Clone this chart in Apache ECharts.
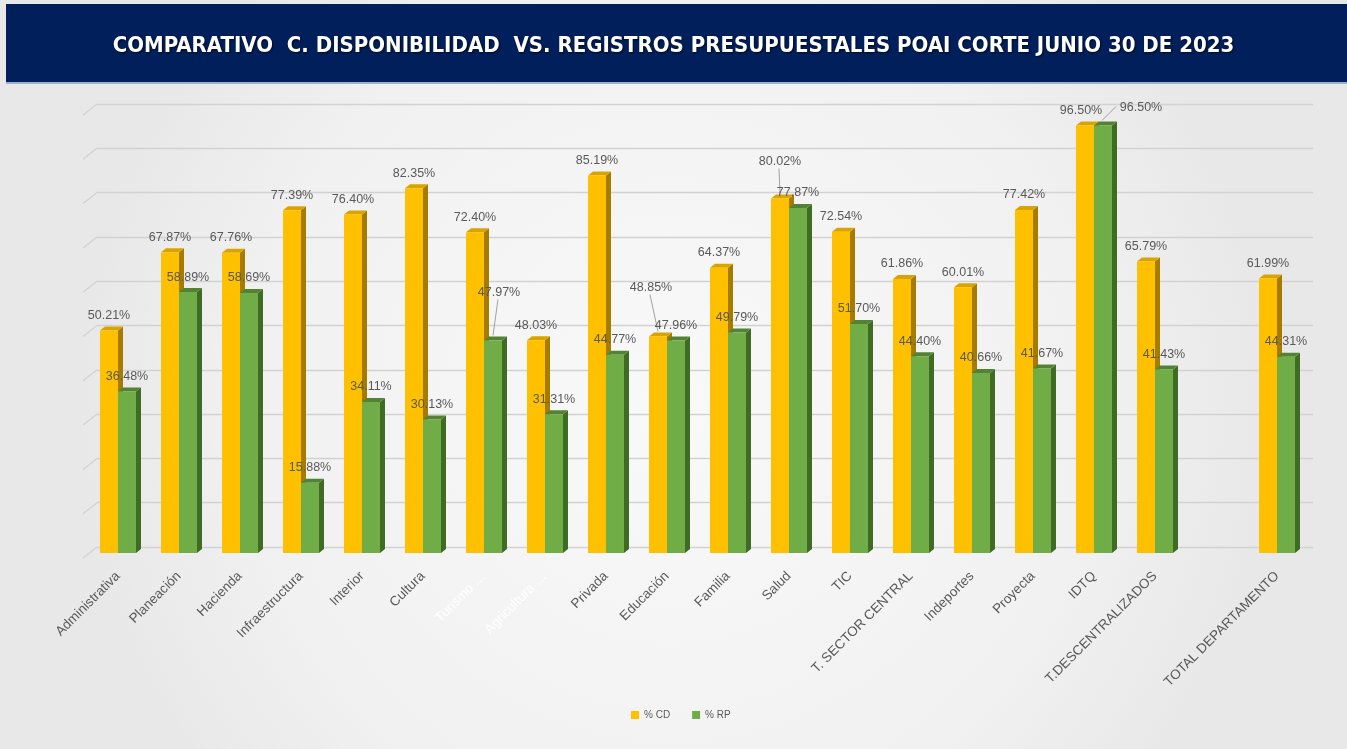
<!DOCTYPE html>
<html>
<head>
<meta charset="utf-8">
<script src="https://cdn.jsdelivr.net/npm/echarts@6/dist/echarts.min.js"></script>
<style>
html,body{margin:0;padding:0;width:1347px;height:749px;overflow:hidden;background:#eeeeee;}
#chart{width:1347px;height:749px;}
</style>
</head>
<body>
<div id="chart"></div>
<script>
const categories = ['Administrativa','Planeación','Hacienda','Infraestructura','Interior','Cultura','Turismo …','Agricultura …','Privada','Educación','Familia','Salud','TIC','T. SECTOR CENTRAL','Indeportes','Proyecta','IDTQ','T.DESCENTRALIZADOS','','TOTAL DEPARTAMENTO'];
const cdValues = [50.21,67.87,67.76,77.39,76.40,82.35,72.40,48.03,85.19,48.85,64.37,80.02,72.54,61.86,60.01,77.42,96.50,65.79,null,61.99];
const rpValues = [36.48,58.89,58.69,15.88,34.11,30.13,47.97,31.31,44.77,47.96,49.79,77.87,51.70,44.40,40.66,41.67,96.50,41.43,null,44.31];
const yTicks = [0,10,20,30,40,50,60,70,80,90,100];
const seriesNames = ['% CD','% RP'];
const titleText = 'COMPARATIVO  C. DISPONIBILIDAD  VS. REGISTROS PRESUPUESTALES POAI CORTE JUNIO 30 DE 2023';

// label displacement (layout only): [dx, dy, leaderLine]
const labelShift = {
  cd: {9: [-7, -34, true], 11: [0, -22, true], 16: [-4, 0, false]},
  rp: {6: [6, -33, true], 16: [38, -3, true]}
};
const whiteLabels = {6: true, 7: true};

const palette = {
  cd: {front: '#FFC000', side: '#A67C00', top: '#D9A300'},
  rp: {front: '#70AD47', side: '#3F6B25', top: '#548235'}
};
const labelFont = '12.5px "Liberation Sans", Arial, sans-serif';

function makeRender(key) {
  const isCD = key === 'cd';
  const col = palette[key];
  return function (params, api) {
    const idx = api.value(0);
    const v = api.value(1);
    if (v === null || v === undefined || isNaN(v)) return;
    const topPt = api.coord([idx, v]);
    const basePt = api.coord([idx, 0]);
    const bw = api.size([1, 0])[0];
    const w = bw * 0.295;
    const x0 = isCD ? topPt[0] - w : topPt[0];
    const x1 = x0 + w;
    const dx = 5, dy = -4;
    const ty = topPt[1], by = basePt[1];
    const children = [
      {type: 'polygon', shape: {points: [[x1, ty], [x1 + dx, ty + dy], [x1 + dx, by + dy], [x1, by]]}, style: {fill: col.side}},
      {type: 'polygon', shape: {points: [[x0, ty], [x0 + dx, ty + dy], [x1 + dx, ty + dy], [x1, ty]]}, style: {fill: col.top}},
      {type: 'rect', shape: {x: x0, y: ty, width: w, height: by - ty}, style: {fill: col.front}}
    ];
    const sh = labelShift[key][idx] || [0, 0, false];
    const lx = x0 + w / 2 + sh[0];
    const ly = ty - 15 + sh[1];
    if (sh[2]) {
      let pts;
      if (key === 'rp' && idx === 16) {
        pts = [[lx - 25, ly - 1], [x0 + w / 2 - 1, ty - 5]];
      } else {
        pts = [[lx - 1, ly + 7], [x0 + w / 2, ty - 5]];
      }
      children.push({type: 'polyline', shape: {points: pts}, style: {stroke: '#8c8c8c', lineWidth: 0.8, fill: null}, z2: 30});
    }
    children.push({
      type: 'text', z2: 40,
      style: {x: lx, y: ly, text: v.toFixed(2) + '%', align: 'center', verticalAlign: 'middle', fill: '#595959', font: labelFont}
    });
    return {type: 'group', children: children};
  };
}

const chart = echarts.init(document.getElementById('chart'));
const option = {
  animation: false,
  backgroundColor: {
    type: 'radial', x: 0.5, y: 0.55, r: 0.8,
    colorStops: [{offset: 0, color: '#f9f9f9'}, {offset: 0.7, color: '#f1f1f1'}, {offset: 1, color: '#e8e8e8'}]
  },
  graphic: [
    {type: 'rect', left: 6, top: 4, shape: {width: 1341, height: 79}, style: {fill: '#001F5B'}, z: 0},
    {type: 'rect', left: 6, top: 82, shape: {width: 1341, height: 2}, style: {fill: '#9fb0cc'}, z: 0}
  ],
  title: {
    text: titleText, left: 'center', top: 30,
    textStyle: {color: '#ffffff', fontSize: 22, fontWeight: 'bold', fontFamily: '"Liberation Sans Narrow", "DejaVu Sans Condensed", "Liberation Sans", sans-serif',
      textShadowColor: 'rgba(0,0,0,0.7)', textShadowBlur: 2, textShadowOffsetX: 1, textShadowOffsetY: 1}
  },
  legend: {
    data: seriesNames, left: 626, top: 705, icon: 'rect', itemWidth: 8, itemHeight: 8, itemGap: 22,
    textStyle: {color: '#595959', fontSize: 10, fontFamily: '"Liberation Sans", sans-serif'}
  },
  grid: [
    {left: 87.5, right: 39.5, top: 110, bottom: 196},
    {left: 97, right: 34, top: 104, bottom: 202}
  ],
  xAxis: [
    {
      type: 'category', gridIndex: 0, data: categories, boundaryGap: true,
      axisLine: {show: false}, axisTick: {show: false},
      axisLabel: {
        interval: 0, rotate: 45, margin: 21, fontSize: 13.5, fontFamily: '"Liberation Sans", sans-serif',
        color: function (val, i) { return whiteLabels[i] ? '#ffffff' : '#595959'; }
      }
    },
    {type: 'value', gridIndex: 1, min: 0, max: 1, show: false}
  ],
  yAxis: [
    {type: 'value', gridIndex: 0, min: 0, max: 100, interval: 10, show: false, splitLine: {show: false}},
    {type: 'value', gridIndex: 1, min: 0, max: 100, interval: 10, axisLabel: {show: false}, axisLine: {show: false}, axisTick: {show: false},
      splitLine: {show: true, lineStyle: {color: '#d2d2d2', width: 1.3}}}
  ],
  series: [
    {
      type: 'custom', name: 'walls', xAxisIndex: 1, yAxisIndex: 1, silent: true, z: 1,
      data: yTicks.map(function (t) { return [0, t]; }),
      renderItem: function (params, api) {
        const p = api.coord([0, api.value(1)]);
        return {type: 'line', shape: {x1: p[0], y1: p[1], x2: p[0] - 14, y2: p[1] + 11}, style: {stroke: '#d2d2d2', lineWidth: 1.3}};
      }
    },
    {
      type: 'custom', name: seriesNames[0], xAxisIndex: 0, yAxisIndex: 0, z: 3,
      itemStyle: {color: palette.cd.front},
      data: cdValues.map(function (v, i) { return [i, v]; }),
      renderItem: makeRender('cd')
    },
    {
      type: 'custom', name: seriesNames[1], xAxisIndex: 0, yAxisIndex: 0, z: 4,
      itemStyle: {color: palette.rp.front},
      data: rpValues.map(function (v, i) { return [i, v]; }),
      renderItem: makeRender('rp')
    }
  ]
};
chart.setOption(option);
</script>
</body>
</html>
